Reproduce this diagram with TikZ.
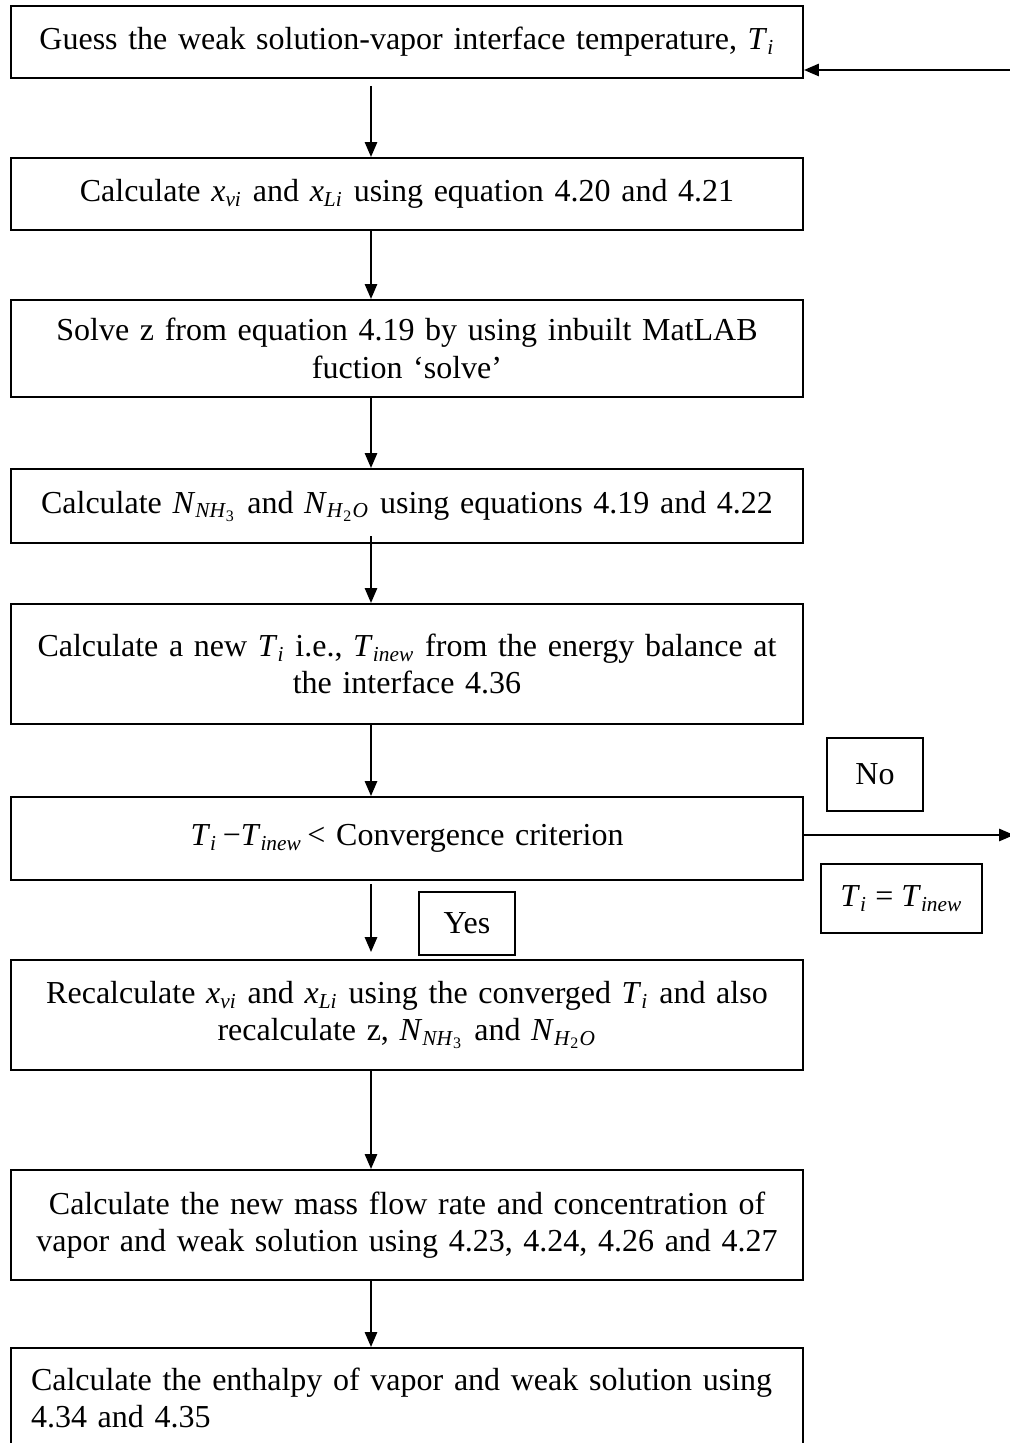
\documentclass[tikz,border=0pt]{standalone}
\usepackage{fontspec}
\setmainfont{Liberation Serif}
\usetikzlibrary{arrows.meta}

\newcommand{\ivar}[2]{\textit{#1}\textsubscript{\textit{#2}}}
\newcommand{\nnh}{\textit{N}\textsubscript{\textit{NH}\textsubscript{3}}}
\newcommand{\nho}{\textit{N}\textsubscript{\textit{H}\textsubscript{2}\textit{O}}}

\tikzset{
  stepbox/.style={draw, minimum width=297pt, text width=285pt, align=center, inner sep=0pt},
  tagbox/.style={draw, inner sep=0pt},
  flow/.style={-{Triangle[length=5.6pt,width=4.6pt]}}
}

\begin{document}
\begin{tikzpicture}[x=0.375pt, y=-0.375pt, line width=0.75pt, font=\fontsize{12}{14}\selectfont]
      \useasboundingbox (0,0) rectangle (1010,1443);
      \coordinate (spine) at (371,0);
      \coordinate (back) at (1010,70);
      \coordinate (out) at (1014,835);

      \node[stepbox, minimum height=27pt](guess) at (407,42) {Guess the weak solution-vapor interface temperature, \ivar{T}{i}};
      \node[stepbox, minimum height=27pt](xcalc) at (407,194) {Calculate \ivar{x}{vi} and \ivar{x}{Li} using equation 4.20 and 4.21};
      \node[stepbox, minimum height=36.4pt](solvez) at (407,348.5) {Solve z from equation 4.19 by using inbuilt MatLAB\\ fuction `solve'};
      \node[stepbox, minimum height=27.75pt](ncalc) at (407,506) {Calculate \nnh{} and \nho{} using equations 4.19 and 4.22};
      \node[stepbox, minimum height=45pt](newT) at (407,664) {Calculate a new \ivar{T}{i} i.e., \ivar{T}{inew} from the energy balance at\\ the interface 4.36};
      \node[stepbox, minimum height=31.1pt](conv) at (407,838.5) {\raisebox{1.5pt}{\ivar{T}{i}\,−\ivar{T}{inew}\,< Convergence criterion}};
      \node[stepbox, minimum height=41.25pt](recalc) at (407,1015) {Recalculate \ivar{x}{vi} and \ivar{x}{Li} using the converged \ivar{T}{i} and also\\ recalculate z, \nnh{} and \nho};
      \node[stepbox, minimum height=41.25pt](massflow) at (407,1225) {Calculate the new mass flow rate and concentration of\\ vapor and weak solution using 4.23, 4.24, 4.26 and 4.27};
      \node[stepbox, minimum height=37.5pt, text width=282pt, align=left](enthalpy) at (407,1398) {Calculate the enthalpy of vapor and weak solution using\\ 4.34 and 4.35};

      \node[tagbox, minimum width=36pt, minimum height=27.4pt](no) at (875,774.5) {No};
      \node[tagbox, minimum width=60.4pt, minimum height=25.9pt](update) at (901.5,898.5) {\ivar{T}{i} = \ivar{T}{inew}};
      \node[tagbox, minimum width=36pt, minimum height=23.6pt](yes) at (467,923.5) {Yes};

      \path
      (guess.south -| spine) edge[flow, shorten <=2.6pt] (xcalc.north -| spine)
      (xcalc.south -| spine) edge[flow] (solvez.north -| spine)
      (solvez.south -| spine) edge[flow] (ncalc.north -| spine)
      (ncalc.south -| spine) edge[flow, shorten <=-3pt] (newT.north -| spine)
      (newT.south -| spine) edge[flow] (conv.north -| spine)
      (conv.south -| spine) edge[flow, shorten <=1.1pt, shorten >=2.6pt] (recalc.north -| spine)
      (recalc.south -| spine) edge[flow] (massflow.north -| spine)
      (massflow.south -| spine) edge[flow] (enthalpy.north -| spine)
      (conv.east |- out) edge[flow] (out)
      (back) edge[flow] (guess.east |- back);
    \end{tikzpicture}
\end{document}
